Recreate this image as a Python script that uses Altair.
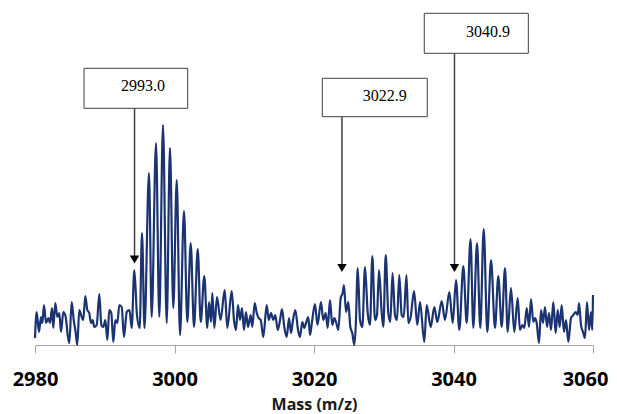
import altair as alt
import pandas as pd

# ---- spectrum trace (m/z, relative intensity) ----
mz = [
    2980.00, 2980.24, 2980.57, 2980.86, 2981.05, 2981.29, 2981.58, 2981.91, 2982.15, 2982.44,
    2982.62, 2982.91, 2983.20, 2983.48, 2983.73, 2984.06, 2984.40, 2984.69, 2984.92, 2985.26,
    2985.55, 2985.84, 2986.06, 2986.35, 2986.70, 2986.92, 2987.21, 2987.50, 2987.78, 2988.03,
    2988.27, 2988.50, 2988.85, 2989.22, 2989.51, 2989.79, 2990.08, 2990.37, 2990.65, 2990.94,
    2991.23, 2991.51, 2991.80, 2992.09, 2992.43, 2992.76, 2993.15, 2993.55, 2993.86, 2994.24,
    2994.62, 2995.01, 2995.34, 2995.70, 2996.34, 2996.73, 2997.35, 2997.82, 2998.35, 2998.88,
    2999.35, 2999.83, 3000.32, 3000.79, 3001.36, 3001.84, 3002.32, 3002.80, 3003.33, 3003.76,
    3004.27, 3004.70, 3004.95, 3005.23, 3005.42, 3005.71, 3006.09, 3006.60, 3007.20, 3007.57,
    3008.20, 3008.53, 3008.82, 3009.10, 3009.39, 3009.68, 3009.96, 3010.25, 3010.54, 3010.92,
    3011.15, 3011.50, 3011.79, 3012.07, 3012.36, 3012.73, 3013.22, 3013.51, 3013.84, 3014.17,
    3014.45, 3014.80, 3015.13, 3015.41, 3015.74, 3016.09, 3016.42, 3016.70, 3016.99, 3017.32,
    3017.71, 3017.99, 3018.32, 3018.61, 3018.90, 3019.18, 3019.43, 3019.71, 3020.14, 3020.50,
    3021.00, 3021.33, 3021.68, 3021.96, 3022.29, 3022.62, 3022.91, 3023.20, 3023.48, 3023.83,
    3024.11, 3024.30, 3024.59, 3024.92, 3025.21, 3025.49, 3025.78, 3025.98, 3026.27, 3026.60,
    3026.93, 3027.31, 3027.70, 3028.03, 3028.36, 3028.75, 3029.03, 3029.32, 3029.71, 3029.94,
    3030.28, 3030.65, 3030.94, 3031.26, 3031.61, 3031.90, 3032.23, 3032.57, 3032.86, 3033.26,
    3033.52, 3033.86, 3034.34, 3034.81, 3035.20, 3035.81, 3036.16, 3036.73, 3037.25, 3037.68,
    3038.31, 3038.78, 3039.40, 3039.89, 3040.36, 3040.83, 3041.41, 3041.89, 3042.44, 3042.84,
    3043.37, 3043.84, 3044.33, 3044.85, 3045.38, 3045.95, 3046.42, 3046.91, 3047.38, 3047.77,
    3048.24, 3048.72, 3049.20, 3049.53, 3049.87, 3050.15, 3050.50, 3050.83, 3051.11, 3051.44,
    3051.69, 3051.93, 3052.26, 3052.55, 3052.83, 3053.12, 3053.41, 3053.69, 3053.98, 3054.31,
    3054.65, 3054.94, 3055.23, 3055.51, 3055.84, 3056.13, 3056.46, 3056.85, 3057.18, 3057.52,
    3057.81, 3058.00, 3058.28, 3058.57, 3058.85, 3059.14, 3059.43, 3059.71, 3059.90, 3060.00,
]
intensity = [
    7, 33, 13, 28, 22, 40, 22, 27, 22, 37,
    17, 42, 28, 32, 13, 33, 28, 10, 2, 43,
    25, 12, 0, 35, 28, 25, 49, 35, 32, 22,
    25, 18, 20, 51, 20, 18, 25, 5, 35, 32,
    3, 25, 22, 40, 38, 8, 33, 35, 17, 75,
    30, 17, 112, 17, 172, 28, 202, 28, 220, 22,
    197, 37, 165, 10, 134, 23, 102, 18, 96, 23,
    69, 17, 43, 23, 52, 17, 48, 25, 55, 17,
    54, 25, 15, 40, 25, 37, 15, 33, 18, 30,
    18, 42, 32, 27, 25, 8, 40, 25, 32, 25,
    30, 15, 25, 36, 18, 8, 27, 12, 25, 35,
    15, 8, 23, 17, 23, 28, 10, 23, 41, 20,
    43, 25, 32, 17, 45, 20, 27, 22, 15, 47,
    52, 60, 33, 43, 18, 12, 0, 18, 77, 25,
    18, 78, 32, 20, 89, 25, 30, 75, 32, 18,
    90, 32, 23, 72, 30, 25, 70, 30, 28, 70,
    22, 28, 54, 20, 43, 3, 40, 18, 38, 23,
    44, 25, 53, 22, 65, 15, 79, 22, 106, 17,
    102, 17, 116, 13, 85, 17, 69, 18, 77, 13,
    57, 13, 47, 15, 20, 17, 37, 18, 46, 23,
    27, 22, 2, 35, 22, 38, 18, 32, 15, 43,
    12, 35, 18, 40, 13, 25, 3, 27, 30, 33,
    30, 42, 20, 13, 7, 43, 15, 33, 15, 50,
]

# ---- peak annotations ----
peak_labels = ["2993.0", "3022.9", "3040.9"]
box_left = [2987.03, 3021.19, 3035.81]
box_right = [3001.89, 3036.24, 3050.73]
box_top = [276.7, 266.7, 331.7]
box_bottom = [236.7, 228.3, 291.7]
label_x = [2995.48, 3030.15, 3044.95]
label_y = [259.5, 249.5, 313.3]
arrow_x = [2994.27, 3024.01, 3040.14]
arrow_head = [85.5, 77.0, 77.0]

tick_values = [2980, 3000, 3020, 3040, 3060]

spec = pd.DataFrame({"mz": mz, "intensity": intensity})
ann = pd.DataFrame({
    "label": peak_labels,
    "x1": box_left, "x2": box_right,
    "y1": box_bottom, "y2": box_top,
    "lx": label_x, "ly": label_y,
    "ax": arrow_x, "ah": arrow_head,
})

xscale = alt.Scale(domain=[2980, 3060], nice=False, zero=False)
yscale = alt.Scale(domain=[0, 335], nice=False, zero=False)

xaxis = alt.Axis(
    values=tick_values, format="d", grid=False,
    domainColor="#a6a6a6", domainWidth=1,
    tickColor="#a6a6a6", tickSize=8, tickWidth=1,
    labelFont="Open Sans", labelFontSize=20, labelFontWeight="bold",
    labelColor="#000000", labelBaseline="middle", labelPadding=26,
    labelFlush=False, labelOverlap=False,
    labelOffset={"condition": {"test": "datum.value === 3060", "value": -8}, "value": 0},
    title="Mass (m/z)", titleFont="Open Sans", titleFontSize=16,
    titleFontWeight="bold", titleColor="#1a1a1a",
    titleBaseline="alphabetic", titleY=64,
)

line = alt.Chart(spec).mark_line(
    color="#1b3370", strokeWidth=2.2, interpolate="monotone"
).encode(
    x=alt.X("mz:Q", scale=xscale, axis=xaxis),
    y=alt.Y("intensity:Q", scale=yscale, axis=None),
)

base = alt.Chart(ann)

arrows = base.mark_rule(color="#404040", strokeWidth=1.5).encode(
    x=alt.X("ax:Q", scale=xscale),
    y=alt.Y("y1:Q", scale=yscale),
    y2="ah:Q",
)

heads = base.mark_point(
    shape="triangle-down", filled=True, size=90, color="#000000", opacity=1
).encode(
    x=alt.X("ax:Q", scale=xscale),
    y=alt.Y("ah:Q", scale=yscale),
)

boxes = base.mark_rect(fill="#ffffff", stroke="#404040", strokeWidth=1).encode(
    x=alt.X("x1:Q", scale=xscale),
    x2="x2:Q",
    y=alt.Y("y1:Q", scale=yscale),
    y2="y2:Q",
)

texts = base.mark_text(
    font="Liberation Serif", fontSize=16, color="#000000",
    align="center", baseline="middle"
).encode(
    x=alt.X("lx:Q", scale=xscale),
    y=alt.Y("ly:Q", scale=yscale),
    text="label:N",
)

chart = alt.layer(line, arrows, heads, boxes, texts).properties(
    width=558, height=335,
    autosize=alt.AutoSizeParams(type="none"),
    padding={"left": 27, "top": 2, "right": 16, "bottom": 70},
    background="#ffffff",
).configure_view(stroke=None)

chart.save("out.html", embed_options={"renderer": "svg", "actions": False})
